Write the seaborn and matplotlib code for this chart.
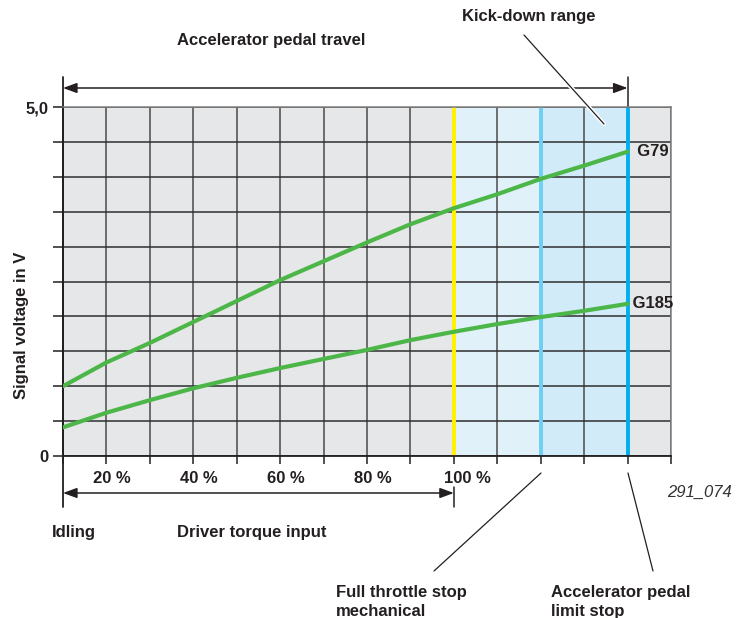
import numpy as np
import pandas as pd
import matplotlib
matplotlib.use('Agg')
import matplotlib.pyplot as plt
import matplotlib.patheffects as pe
import seaborn as sns

# ==========================================
# DATA (one value per grid column of pedal travel)
# ==========================================
travel_steps = list(range(14))
g79_volts = [1.00, 1.34, 1.62, 1.92, 2.22, 2.52, 2.79, 3.06, 3.32, 3.55, 3.75, 3.97, 4.16, 4.36]
g185_volts = [0.41, 0.62, 0.80, 0.97, 1.12, 1.26, 1.39, 1.52, 1.66, 1.78, 1.89, 1.99, 2.08, 2.18]
sensor_names = ['G79', 'G185']

pct_labels = ['20 %', '40 %', '60 %', '80 %', '100 %']
pct_steps = [1, 3, 5, 7, 9]
full_throttle_step = 9
kickdown_step = 11
pedal_limit_step = 13
n_columns = 14
volt_ticks = np.arange(0, 5.01, 0.5)

# ==========================================
# STYLE
# ==========================================
sns.set_style('white')
plt.rcParams['font.family'] = ['Liberation Sans', 'DejaVu Sans']
INK = '#231f20'
GREEN = '#4cb748'
FS = 12

W, H = 746, 618
fx = lambda px: px / W
fy = lambda py: 1 - py / H

fig = plt.figure(figsize=(W / 100, H / 100), dpi=100)
fig.patch.set_facecolor('white')
ax = fig.add_axes([fx(63), fy(456), fx(671) - fx(63), fy(107) - fy(456)])
ay = lambda py: (456 - py) / (456 - 107)

ax.set_facecolor('#e6e7e8')
ax.axvspan(full_throttle_step, kickdown_step, color='#e0f1fa', zorder=0.2, lw=0)
ax.axvspan(kickdown_step, pedal_limit_step, color='#d2ebf8', zorder=0.2, lw=0)

# grid
ax.set_axisbelow(True)
ax.set_xticks(range(n_columns + 1))
ax.set_xticklabels([])
ax.set_yticks(volt_ticks)
ax.set_yticklabels(['0'] + [''] * (len(volt_ticks) - 2) + ['5,0'], fontsize=FS, fontweight='bold', color=INK)
ax.grid(axis='y', color='#2e2e2e', lw=1.1)
ax.grid(axis='x', color='#4a4a4a', lw=1.1)
ax.tick_params(axis='x', direction='out', length=6, width=1.1, color=INK, bottom=True)
ax.tick_params(axis='y', direction='out', length=7.5, width=1.1, color=INK, left=True, pad=3)

ax.axvline(full_throttle_step, color='#fff200', lw=2.8, zorder=1.5)
ax.axvline(kickdown_step, color='#6dcff6', lw=2.8, zorder=1.5)
ax.axvline(pedal_limit_step, color='#00aeef', lw=2.8, zorder=1.5)

# sensor curves
df = pd.DataFrame({
    'step': travel_steps * 2,
    'volt': g79_volts + g185_volts,
    'sensor': [sensor_names[0]] * len(g79_volts) + [sensor_names[1]] * len(g185_volts),
})
sns.lineplot(data=df, x='step', y='volt', hue='sensor', palette=[GREEN, GREEN],
             lw=3, legend=False, ax=ax, zorder=3, solid_joinstyle='round')
ax.text(pedal_limit_step, g79_volts[-1], '  G79', fontsize=FS, fontweight='bold', color=INK, va='center', ha='left')
ax.text(pedal_limit_step, g185_volts[-1], ' G185', fontsize=FS, fontweight='bold', color=INK, va='center', ha='left')

ax.set_xlim(0, n_columns)
ax.set_ylim(0, 5)
ax.set_xlabel('')
ax.set_ylabel('')
for s in ['top', 'right']:
    ax.spines[s].set_color('#808080')
    ax.spines[s].set_linewidth(1.1)
for s in ['left', 'bottom']:
    ax.spines[s].set_color(INK)
    ax.spines[s].set_linewidth(1.3)

# percent labels under the axis
for st, lab in zip(pct_steps, pct_labels):
    off = 10 if lab == '100 %' else 4
    ax.annotate(lab, xy=(st, 0), xycoords=('data', 'axes fraction'), xytext=(off, -16),
                textcoords='offset points', ha='center', va='center',
                fontsize=FS, fontweight='bold', color=INK, annotation_clip=False)

# dimension arrows
xt = ax.get_xaxis_transform()
arrow = dict(arrowstyle='<|-|>,head_length=0.6,head_width=0.22', color=INK, lw=1.1,
             shrinkA=0, shrinkB=0, mutation_scale=14)
ax.annotate('', xy=(0, ay(88)), xycoords=xt, xytext=(pedal_limit_step, ay(88)), textcoords=xt,
            arrowprops=arrow, annotation_clip=False)
ax.annotate('', xy=(0, ay(493)), xycoords=xt, xytext=(full_throttle_step, ay(493)), textcoords=xt,
            arrowprops=arrow, annotation_clip=False)
ax.plot([0, 0], [ay(77), ay(507)], transform=xt, color=INK, lw=1.3, clip_on=False)
ax.plot([pedal_limit_step] * 2, [ay(77), ay(107)], transform=xt, color=INK, lw=1.1, clip_on=False)
ax.plot([full_throttle_step] * 2, [ay(487), ay(507)], transform=xt, color=INK, lw=1.1, clip_on=False)

# texts around the chart
txt = dict(fontsize=FS, fontweight='bold', color=INK, va='center')
fig.text(fx(22), fy(325), 'Signal voltage in V', rotation=90, ha='center', **txt)
fig.text(fx(271), fy(40), 'Accelerator pedal travel', ha='center', **txt)
fig.text(fx(529), fy(17), 'Kick-down range', ha='center', **txt)
fig.text(fx(52), fy(533), 'Idling', ha='left', **txt)
fig.text(fx(177), fy(533), 'Driver torque input', ha='left', **txt)
fig.text(fx(336), fy(585), 'Full throttle stop\nmechanical', ha='left', va='top', fontsize=FS,
         fontweight='bold', color=INK, linespacing=1.3)
fig.text(fx(551), fy(585), 'Accelerator pedal\nlimit stop', ha='left', va='top', fontsize=FS,
         fontweight='bold', color=INK, linespacing=1.3)
fig.text(fx(667), fy(492), '291_074', ha='left', va='center', fontsize=FS, style='italic', color='#333333')

# leader lines
def leader(x0, y0, x1, y1, halo=False):
    ln = plt.Line2D([fx(x0), fx(x1)], [fy(y0), fy(y1)], transform=fig.transFigure, color=INK, lw=0.9)
    if halo:
        ln.set_path_effects([pe.Stroke(linewidth=3, foreground='white'), pe.Normal()])
    fig.add_artist(ln)

leader(524, 35, 604, 124, halo=True)
leader(541, 473, 434, 571)
leader(628, 473, 653, 571)

plt.savefig('out.png', dpi=100)
plt.close()
